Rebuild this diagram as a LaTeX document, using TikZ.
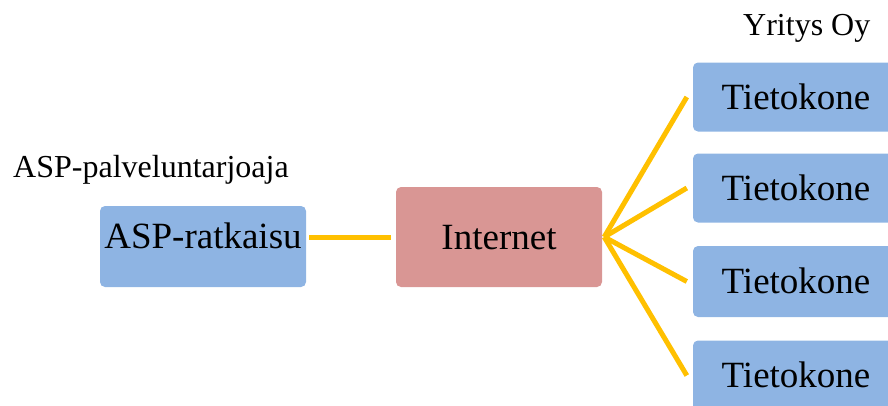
\documentclass[tikz,border=0pt]{standalone}
\usepackage{fontspec}
\setmainfont{Liberation Serif}
\definecolor{boxblue}{HTML}{8EB4E3}
\definecolor{boxred}{HTML}{D99694}
\definecolor{linkgold}{HTML}{FFC000}
\tikzset{
  box/.style={rounded corners=5pt, inner sep=0pt, minimum width=206pt,
    font=\fontsize{37}{44}\selectfont, text height=25pt, text depth=1pt},
  bluebox/.style={box, fill=boxblue},
  redbox/.style={box, fill=boxred},
  link/.style={draw=linkgold, line width=5pt},
  caption/.style={inner sep=0pt, anchor=base west, font=\fontsize{32}{38}\selectfont}
}
\begin{document}
\begin{tikzpicture}[x=1pt, y=-1pt]
  \useasboundingbox (0,0) rectangle (888,405);
  \clip (0,0) rectangle (888,405);

  % group captions
  \node[caption] (yritys) at (743,35) {Yritys Oy};
  \node[caption] (asp) at (13,177) {ASP-palveluntarjoaja};

  % provider side
  \node[bluebox, minimum height=81pt, text height=20pt, text depth=17pt] (ratk) at (203,246.5) {ASP-ratkaisu};
  \node[redbox, minimum height=100pt] (inet) at (499,237) {Internet};

  % company computers
  \node[bluebox, minimum height=69pt] (t1) at (796,97) {Tietokone};
  \node[bluebox, minimum height=69pt] (t2) at (796,188) {Tietokone};
  \node[bluebox, minimum height=71pt] (t3) at (796,281.5) {Tietokone};
  \node[bluebox, minimum height=70pt] (t4) at (796,375.5) {Tietokone};

  % connections
  \coordinate (ratkout) at (ratk.east |- inet.west);
  \draw[link] ([xshift=3pt]ratkout) -- ([xshift=-5pt]inet.west);
  \coordinate (hub) at ([xshift=2pt]inet.east);
  \foreach \t in {t1,t2,t3,t4}
    \draw[link, line join=round] (hub) -- ([xshift=-6pt]\t.west);
\end{tikzpicture}
\end{document}
